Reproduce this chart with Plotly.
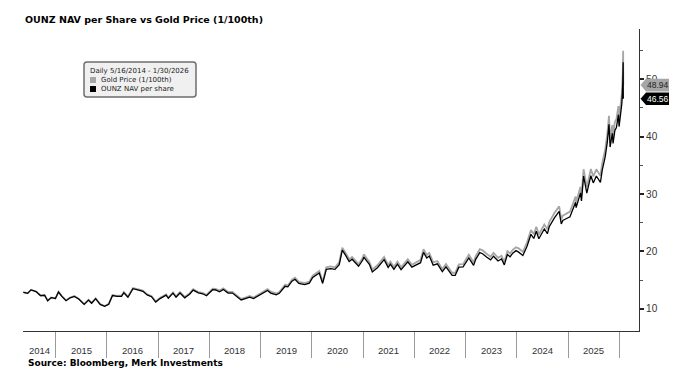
import plotly.graph_objects as go
import pandas as pd

# ---------------- data ----------------
dates = [
    "2014-05-16", "2014-06-16", "2014-07-10", "2014-08-15", "2014-09-15", "2014-10-15", "2014-11-06", "2014-12-01", "2014-12-31",
    "2015-01-22", "2015-02-15", "2015-03-17", "2015-04-15", "2015-05-15", "2015-06-15", "2015-07-24", "2015-08-24", "2015-09-15", "2015-10-14", "2015-11-15", "2015-12-17",
    "2016-01-15", "2016-02-11", "2016-03-15", "2016-04-15", "2016-05-02", "2016-05-31", "2016-06-15", "2016-07-06", "2016-08-15", "2016-09-15", "2016-10-15", "2016-11-15", "2016-12-15",
    "2017-01-15", "2017-02-27", "2017-03-15", "2017-04-17", "2017-05-09", "2017-06-06", "2017-07-10", "2017-08-15", "2017-09-08", "2017-10-15", "2017-11-15", "2017-12-12",
    "2018-01-25", "2018-02-15", "2018-03-15", "2018-04-11", "2018-05-15", "2018-06-15", "2018-07-15", "2018-08-16", "2018-09-15", "2018-10-15", "2018-11-13", "2018-12-15",
    "2019-01-15", "2019-02-20", "2019-03-15", "2019-04-23", "2019-05-15", "2019-06-25", "2019-07-15", "2019-08-13", "2019-09-04", "2019-10-01", "2019-11-12", "2019-12-15",
    "2020-01-08", "2020-02-24", "2020-03-19", "2020-04-14", "2020-05-15", "2020-06-15", "2020-07-15", "2020-08-06", "2020-08-31", "2020-09-24", "2020-10-15", "2020-11-30", "2020-12-31",
    "2021-01-06", "2021-02-15", "2021-03-08", "2021-04-15", "2021-05-31", "2021-06-29", "2021-07-15", "2021-08-09", "2021-09-03", "2021-09-29", "2021-10-15", "2021-11-16", "2021-12-15",
    "2022-01-15", "2022-02-15", "2022-03-08", "2022-03-31", "2022-04-18", "2022-05-16", "2022-06-15", "2022-07-20", "2022-08-15", "2022-09-28", "2022-10-20", "2022-11-15", "2022-12-15",
    "2023-01-25", "2023-02-28", "2023-03-15", "2023-04-13", "2023-05-03", "2023-05-31", "2023-06-29", "2023-07-20", "2023-08-21", "2023-09-15", "2023-10-05", "2023-10-27", "2023-11-15", "2023-12-04", "2023-12-27",
    "2024-01-15", "2024-02-14", "2024-03-15", "2024-04-12", "2024-05-02", "2024-05-20", "2024-06-07", "2024-07-16", "2024-08-07", "2024-08-20", "2024-09-26", "2024-10-30", "2024-11-14", "2024-11-25", "2024-12-15",
    "2025-01-15", "2025-02-24", "2025-02-28", "2025-03-31", "2025-04-07", "2025-04-22", "2025-05-15", "2025-06-13", "2025-06-30", "2025-07-22", "2025-08-20", "2025-09-02", "2025-09-23", "2025-10-08", "2025-10-20", "2025-10-28", "2025-11-13", "2025-11-18", "2025-12-01", "2025-12-12", "2025-12-26", "2025-12-31",
    "2026-01-09", "2026-01-20", "2026-01-26", "2026-01-28", "2026-01-29", "2026-01-30",
]

gold_price = [
    12.93, 12.75, 13.35, 13.05, 12.35, 12.40, 11.45, 12.00, 11.85,
    13.00, 12.25, 11.50, 12.00, 12.25, 11.80, 10.85, 11.60, 11.05, 11.85, 10.85, 10.50,
    10.90, 12.45, 12.30, 12.30, 12.95, 12.15, 12.85, 13.65, 13.40, 13.20, 12.55, 12.25, 11.30,
    11.95, 12.55, 12.00, 12.90, 12.20, 12.95, 12.10, 12.75, 13.45, 12.95, 12.80, 12.45,
    13.55, 13.50, 13.20, 13.60, 12.95, 12.95, 12.40, 11.75, 12.00, 12.25, 12.00, 12.45,
    12.90, 13.45, 13.00, 12.70, 12.95, 14.20, 14.10, 15.10, 15.45, 14.70, 14.50, 14.75,
    15.80, 16.60, 14.75, 17.25, 17.40, 17.25, 18.10, 20.65, 19.70, 18.65, 19.05, 17.80, 18.95,
    19.50, 18.20, 16.85, 17.65, 19.05, 17.65, 18.25, 17.30, 18.25, 17.25, 17.70, 18.65, 17.70,
    18.20, 18.55, 20.40, 19.40, 19.75, 18.10, 18.35, 16.95, 17.80, 16.30, 16.30, 17.75, 17.80,
    19.45, 18.10, 19.20, 20.40, 20.20, 19.60, 19.10, 19.75, 18.90, 19.25, 18.20, 20.05, 19.65, 20.30, 20.75,
    20.55, 19.95, 21.60, 23.75, 23.00, 24.30, 22.95, 24.70, 23.85, 25.10, 26.70, 27.85, 25.60, 26.25, 26.50,
    26.95, 29.55, 28.60, 31.25, 29.80, 34.30, 31.20, 34.35, 33.05, 34.30, 33.15, 35.35, 37.75, 40.40, 43.60, 39.50, 42.00, 40.15, 42.50, 43.00, 45.30, 43.20,
    45.00, 47.50, 50.90, 53.80, 54.90, 48.94,
]

ounz_nav = [
    12.90, 12.72, 13.32, 13.02, 12.33, 12.38, 11.43, 11.98, 11.83,
    12.94, 12.19, 11.44, 11.94, 12.19, 11.74, 10.80, 11.54, 10.99, 11.79, 10.80, 10.45,
    10.80, 12.34, 12.19, 12.19, 12.83, 12.04, 12.73, 13.53, 13.28, 13.08, 12.44, 12.14, 11.20,
    11.81, 12.40, 11.86, 12.75, 12.05, 12.79, 11.95, 12.60, 13.29, 12.79, 12.65, 12.30,
    13.35, 13.30, 13.00, 13.40, 12.76, 12.76, 12.21, 11.57, 11.82, 12.07, 11.82, 12.26,
    12.67, 13.21, 12.77, 12.47, 12.72, 13.94, 13.85, 14.83, 15.17, 14.44, 14.24, 14.48,
    15.47, 16.25, 14.44, 16.89, 17.03, 16.89, 17.72, 20.22, 19.29, 18.26, 18.65, 17.43, 18.55,
    19.03, 17.76, 16.45, 17.23, 18.59, 17.23, 17.81, 16.88, 17.81, 16.84, 17.28, 18.20, 17.28,
    17.71, 18.05, 19.85, 18.88, 19.22, 17.61, 17.85, 16.49, 17.32, 15.86, 15.86, 17.27, 17.32,
    18.89, 17.58, 18.64, 19.81, 19.61, 19.03, 18.55, 19.18, 18.35, 18.69, 17.67, 19.47, 19.08, 19.71, 20.15,
    19.89, 19.31, 20.91, 22.99, 22.26, 23.52, 22.22, 23.91, 23.09, 24.30, 25.85, 26.96, 24.78, 25.41, 25.65,
    26.03, 28.55, 27.63, 30.19, 28.79, 33.13, 30.14, 33.18, 31.93, 33.13, 32.02, 34.15, 36.47, 39.03, 42.12, 38.16, 40.57, 38.78, 41.06, 41.54, 43.76, 41.73,
    43.38, 45.79, 49.07, 51.86, 52.92, 46.56,
]

y_ticks = [10, 20, 30, 40, 50]
year_labels = list(range(2014, 2026))
legend_header = "Daily 5/16/2014 - 1/30/2026"
series_names = ["Gold Price (1/100th)", "OUNZ NAV per share"]
title_text = "OUNZ NAV per Share vs Gold Price (1/100th)"
source_text = "Source: Bloomberg, Merk Investments"

# ---------------- layout geometry ----------------
W, H = 696, 375
L, R, T, B = 23, 639, 29, 331          # plot area in pixels
PW, PH = R - L, B - T
X_RANGE = ["2014-05-14", "2026-05-22"]
Y_RANGE = [6.17, 58.7]

GOLD_COLOR = "#a6a6a6"
NAV_COLOR = "#000000"
FONT = "DejaVu Sans"
SMALL_FONT = "Liberation Sans"


def px(xpix):
    return (xpix - L) / PW


def py(ypix):
    return (B - ypix) / PH


def yv(value):
    return (value - Y_RANGE[0]) / (Y_RANGE[1] - Y_RANGE[0])


fig = go.Figure()
fig.add_trace(go.Scatter(x=dates, y=gold_price, mode="lines", name=series_names[0],
                         line=dict(color=GOLD_COLOR, width=1.8), showlegend=False))
fig.add_trace(go.Scatter(x=dates, y=ounz_nav, mode="lines", name=series_names[1],
                         line=dict(color=NAV_COLOR, width=1.3), showlegend=False))

start = pd.Timestamp(X_RANGE[0])
end = pd.Timestamp(X_RANGE[1])
sep_vals = [f"{y}-01-01" for y in range(2015, 2027)]

annotations = []
shapes = []

# year labels centred in the visible part of each year
for yr in year_labels:
    a = max(pd.Timestamp(f"{yr}-01-01"), start)
    b = min(pd.Timestamp(f"{yr + 1}-01-01"), end)
    mid = a + (b - a) / 2
    annotations.append(dict(x=mid.strftime("%Y-%m-%d %H:%M"), xref="x", y=py(350), yref="paper",
                            text=str(yr), showarrow=False, xanchor="center", yanchor="middle",
                            font=dict(family=SMALL_FONT, size=9.5, color="#333333")))

# title & source
annotations.append(dict(x=px(23), y=py(20), xref="paper", yref="paper", text=f"<b>{title_text}</b>",
                        showarrow=False, xanchor="left", yanchor="middle",
                        font=dict(family=FONT, size=9.5, color="#000000")))
annotations.append(dict(x=px(26), y=py(363), xref="paper", yref="paper", text=f"<b>{source_text}</b>",
                        showarrow=False, xanchor="left", yanchor="middle",
                        font=dict(family=FONT, size=9, color="#000000")))

# legend box (rounded)
x0, x1, y0, y1 = px(84), px(196), py(97), py(62)
rx, ry = 3 / PW, 3 / PH
path = (f"M {x0 + rx},{y1} L {x1 - rx},{y1} Q {x1},{y1} {x1},{y1 - ry} "
        f"L {x1},{y0 + ry} Q {x1},{y0} {x1 - rx},{y0} L {x0 + rx},{y0} "
        f"Q {x0},{y0} {x0},{y0 + ry} L {x0},{y1 - ry} Q {x0},{y1} {x0 + rx},{y1} Z")
shapes.append(dict(type="path", xref="paper", yref="paper", path=path,
                   fillcolor="#f0f0f0", line=dict(color="#6e6e6e", width=1.5), layer="above"))
annotations.append(dict(x=px(88), y=py(71), xref="paper", yref="paper", text=legend_header,
                        showarrow=False, xanchor="left", yanchor="middle",
                        font=dict(family=FONT, size=7, color="#222222")))
for i, (name, col) in enumerate(zip(series_names, [GOLD_COLOR, NAV_COLOR])):
    cy = 80 + 9 * i
    shapes.append(dict(type="rect", xref="paper", yref="paper", x0=px(90), x1=px(96),
                       y0=py(cy + 3), y1=py(cy - 3), fillcolor=col, line=dict(width=0), layer="above"))
    annotations.append(dict(x=px(99), y=py(cy), xref="paper", yref="paper", text=name,
                            showarrow=False, xanchor="left", yanchor="middle",
                            font=dict(family=FONT, size=7, color="#222222")))

# last value tags on the right axis
for val, bg, fg in [(gold_price[-1], GOLD_COLOR, "#222222"), (ounz_nav[-1], NAV_COLOR, "#ffffff")]:
    yc = yv(val)
    hh = 6.3 / PH
    tip, bl, br = px(640.5), px(646), px(669)
    p = f"M {tip},{yc} L {bl},{yc + hh} L {br},{yc + hh} L {br},{yc - hh} L {bl},{yc - hh} Z"
    shapes.append(dict(type="path", xref="paper", yref="paper", path=p, fillcolor=bg,
                       line=dict(width=0), layer="above"))
    annotations.append(dict(x=px(657.5), y=yc, xref="paper", yref="paper", text=f"{val:.2f}",
                            showarrow=False, xanchor="center", yanchor="middle", borderpad=0,
                            font=dict(family=SMALL_FONT, size=8.5, color=fg)))

fig.update_layout(
    width=W, height=H,
    margin=dict(l=L, r=W - R, t=T, b=H - B, pad=0),
    paper_bgcolor="white", plot_bgcolor="white",
    showlegend=False,
    annotations=annotations,
    shapes=shapes,
    xaxis=dict(type="date", range=X_RANGE, showgrid=False, zeroline=False,
               showline=True, linecolor="#333333", linewidth=1,
               tickmode="array", tickvals=sep_vals, showticklabels=False,
               ticks="outside", ticklen=26, tickwidth=1, tickcolor="#9a9a9a"),
    yaxis=dict(side="right", range=Y_RANGE, showgrid=False, zeroline=False,
               showline=True, linecolor="#333333", linewidth=1.2,
               tickmode="array", tickvals=y_ticks, ticks="outside", ticklen=4, tickwidth=2,
               tickcolor="#222222",
               tickfont=dict(family=SMALL_FONT, size=10, color="#333333"),
               minor=dict(tickmode="linear", tick0=5, dtick=5, ticks="outside", ticklen=3,
                          tickwidth=1, tickcolor="#555555")),
)

fig.write_html("out.html", config={"displayModeBar": False},
               post_script="document.body.style.margin='0';document.body.style.overflow='hidden';")
